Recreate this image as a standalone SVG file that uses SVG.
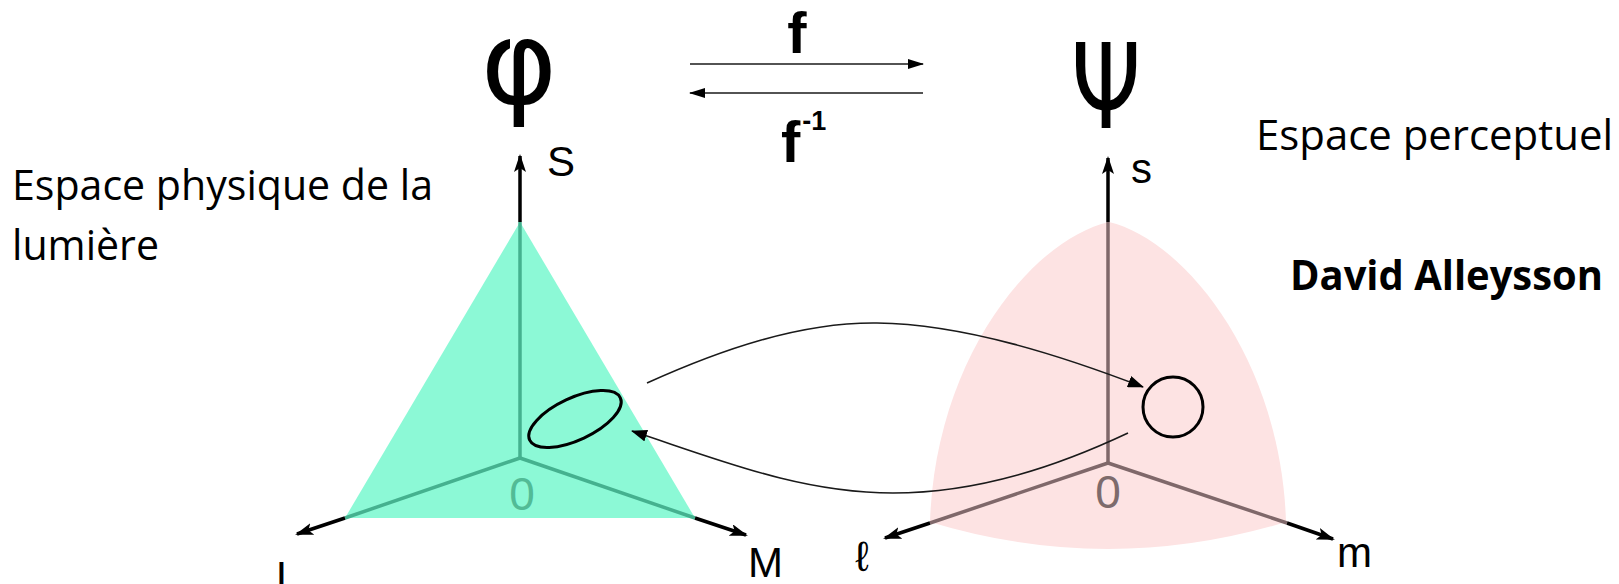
<svg xmlns="http://www.w3.org/2000/svg" width="1619" height="584" viewBox="0 0 1619 584">
<defs>
<style>
.sans{font-family:"Liberation Sans",Arial,sans-serif}
.greek{font-family:"DejaVu Sans","Liberation Sans",sans-serif;fill:#000}
.body{font-family:"Open Sans","Noto Sans",sans-serif;font-size:42px;fill:#000}
.conn{fill:none;stroke:#1a1a1a;stroke-width:1.6}
.ak{fill:none;stroke:#000;stroke-width:3.5}
.ag{fill:none;stroke:#45b18f;stroke-width:3.5}
.ap{fill:none;stroke:#7f686a;stroke-width:3.5}
.lab{font-family:"Liberation Sans","DejaVu Sans",Arial,sans-serif;font-size:42px;fill:#000}
</style>
<marker id="axh" viewBox="0 0 18 12" refX="16" refY="6" markerWidth="18" markerHeight="12" markerUnits="userSpaceOnUse" orient="auto">
<path d="M0,0 L18,6 L0,12 L4,6 Z" fill="#000"/>
</marker>
<marker id="cah" viewBox="0 0 16 12" refX="15" refY="6" markerWidth="16" markerHeight="12" markerUnits="userSpaceOnUse" orient="auto">
<path d="M0,0 L16,6 L0,12 Z" fill="#000"/>
</marker>
<marker id="fah" viewBox="0 0 16 10" refX="15" refY="5" markerWidth="16" markerHeight="10" markerUnits="userSpaceOnUse" orient="auto">
<path d="M0,0 L16,5 L0,10 Z" fill="#000"/>
</marker>
</defs>
<rect width="1619" height="584" fill="#fff"/>

<g id="title-left">
<text class="body" x="12" y="200" textLength="421" lengthAdjust="spacingAndGlyphs">Espace physique de la</text>
<text class="body" x="12" y="260" textLength="147" lengthAdjust="spacingAndGlyphs">lumière</text>
</g>

<g id="title-right">
<text class="body" x="1256" y="150" textLength="357" lengthAdjust="spacingAndGlyphs">Espace perceptuel</text>
<text class="body" x="1290" y="290" font-weight="bold" textLength="313" lengthAdjust="spacingAndGlyphs">David Alleysson</text>
</g>

<g id="phi">
<text class="greek" x="519" y="103" font-size="116" text-anchor="middle">φ</text>
</g>
<g id="psi">
<text class="greek" x="1071" y="128" font-size="118" textLength="70" lengthAdjust="spacingAndGlyphs">Ψ</text>
</g>

<g id="mapping">
<line class="conn" x1="690" y1="64" x2="923" y2="64" stroke="#333" marker-end="url(#fah)"/>
<line class="conn" x1="923" y1="93" x2="690" y2="93" stroke="#333" marker-end="url(#fah)"/>
<text class="sans" x="797" y="53" font-size="58" font-weight="bold" text-anchor="middle">f</text>
<text class="sans" x="781" y="162" font-size="58" font-weight="bold">f<tspan font-size="27" dx="2" dy="-32">-1</tspan></text>
</g>

<g id="physical-space">
<polygon points="520,222 345,518 695,518" fill="#8cf9d6"/>
<line class="ag" x1="520" y1="222" x2="520" y2="458"/>
<line class="ag" x1="520" y1="458" x2="345" y2="518"/>
<line class="ag" x1="520" y1="458" x2="695" y2="518"/>
<line class="ak" x1="520" y1="222" x2="520" y2="156" marker-end="url(#axh)"/>
<line class="ak" x1="345" y1="518" x2="297" y2="534" marker-end="url(#axh)"/>
<line class="ak" x1="695" y1="518" x2="746" y2="535" marker-end="url(#axh)"/>
<text class="sans" x="522" y="510" font-size="46" fill="#52bb96" text-anchor="middle">0</text>
<text class="lab" x="547" y="176">S</text>
<text class="lab" x="276" y="591">L</text>
<text class="lab" x="748" y="577">M</text>
<ellipse cx="575" cy="419" rx="50" ry="21" transform="rotate(-25 575 419)" fill="none" stroke="#000" stroke-width="3"/>
</g>

<g id="perceptual-space">
<path d="M1109,222 C1031,240 935,360 930,522 Q1108,576 1286,522 C1281,360 1185,240 1109,222 Z" fill="#fde3e3"/>
<line class="ap" x1="1108" y1="222" x2="1108" y2="463"/>
<line class="ap" x1="1108" y1="463" x2="930" y2="523"/>
<line class="ap" x1="1108" y1="463" x2="1287" y2="523"/>
<line class="ak" x1="1108" y1="222" x2="1108" y2="158" marker-end="url(#axh)"/>
<line class="ak" x1="930" y1="523" x2="885" y2="538" marker-end="url(#axh)"/>
<line class="ak" x1="1287" y1="523" x2="1333" y2="539" marker-end="url(#axh)"/>
<text class="sans" x="1108" y="508" font-size="46" fill="#7d6b6c" text-anchor="middle">0</text>
<text class="lab" x="1131" y="183">s</text>
<text class="lab" x="862" y="571" text-anchor="middle">ℓ</text>
<text class="lab" x="1337" y="567" font-size="44">m</text>
<circle cx="1173" cy="407" r="30" fill="none" stroke="#000" stroke-width="3"/>
</g>

<g id="connectors">
<path class="conn" d="M647,383 C720,350 800,322 877,323 C965,324 1065,357 1143,387" marker-end="url(#cah)"/>
<path class="conn" d="M1128,433 C1060,465 980,493 893,493 C800,493 720,460 632,431" marker-end="url(#cah)"/>
</g>
</svg>
